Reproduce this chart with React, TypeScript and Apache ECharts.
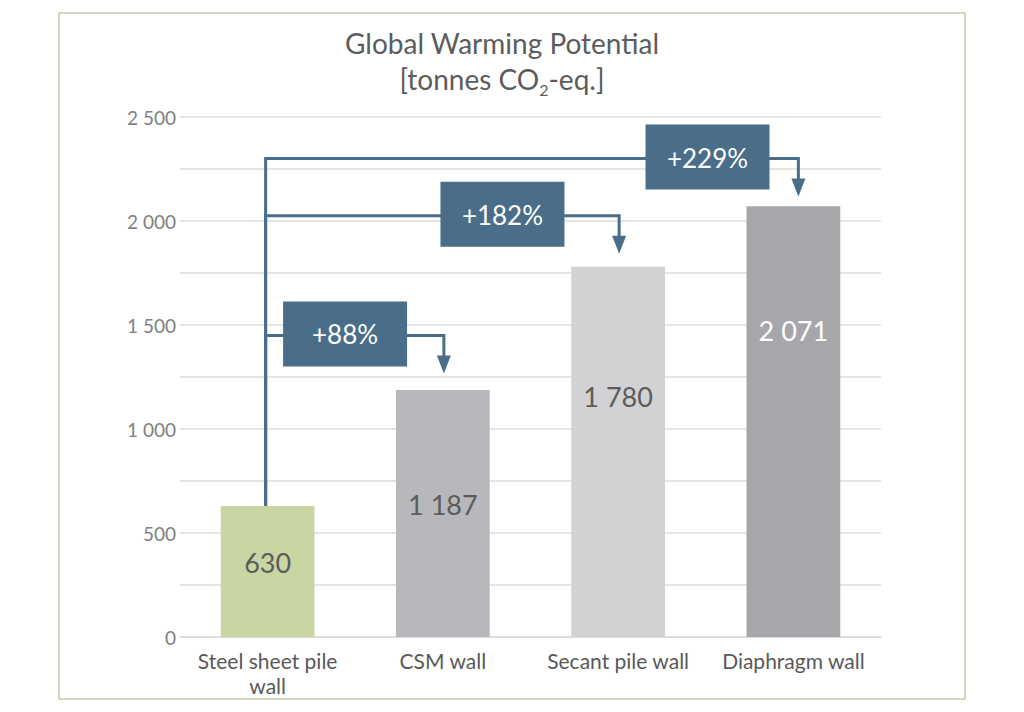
import React, { useEffect, useRef } from "react";
import * as echarts from "echarts";

const categories = ["Steel sheet pile\nwall", "CSM wall", "Secant pile wall", "Diaphragm wall"];
const values = [630, 1187, 1780, 2071];
const barColors = ["#c9d6a3", "#b8b8bc", "#d2d2d4", "#a7a7ab"];
const labelColors = ["#5c5c5c", "#5c5c5c", "#5c5c5c", "#ffffff"];
const labelDistances = [43, 101, 116, 111];

const comparisonTargets = [1, 2, 3];
const comparisonLabels = ["+88%", "+182%", "+229%"];
const bracketLevels = [1450, 2025, 2300];
const boxCenters = [0.442, 1.34, 2.51];
const arrowShifts = [1, 1, 5];

const FONT = "Lato, 'Open Sans', sans-serif";
const BLUE = "#4a6e8a";

const fmt = (v: number) => String(v).replace(/\B(?=(\d{3})+(?!\d))/g, " ");

export default function App() {
  const ref = useRef<HTMLDivElement>(null);
  useEffect(() => {
    const chart = echarts.init(ref.current!, null, { renderer: "svg" });
    const option: any = {
      animation: false,
      backgroundColor: "#ffffff",
      textStyle: { fontFamily: FONT },
      grid: { left: 180, right: 143, top: 117, bottom: 75, containLabel: false },
      graphic: [
        {
          type: "rect",
          shape: { x: 59, y: 13, width: 906, height: 686 },
          style: { fill: "none", stroke: "#d8d5c3", lineWidth: 2 },
          z: 0,
        },
        {
          type: "text",
          x: 502,
          y: 61,
          style: {
            text: "{t|Global Warming Potential}\n{t|[tonnes CO}{s|2}{t|-eq.]}",
            align: "center",
            verticalAlign: "middle",
            fontFamily: FONT,
            rich: {
              t: { fontSize: 28, lineHeight: 36, fill: "#5c5c5c", fontFamily: FONT },
              s: { fontSize: 16, lineHeight: 16, verticalAlign: "bottom", fill: "#5c5c5c", fontFamily: FONT },
            },
          },
        },
      ],
      xAxis: {
        type: "category",
        data: categories,
        axisTick: { show: false },
        axisLine: { lineStyle: { color: "#d9d9d9", width: 1.5 } },
        axisLabel: {
          interval: 0,
          fontSize: 21,
          lineHeight: 25,
          color: "#595959",
          margin: 11,
          fontFamily: FONT,
        },
      },
      yAxis: {
        type: "value",
        min: 0,
        max: 2500,
        interval: 250,
        axisLine: { show: false },
        axisTick: { show: false },
        splitLine: { lineStyle: { color: "#dcdcdc", width: 1.5 } },
        axisLabel: {
          fontSize: 19,
          color: "#808080",
          margin: 4,
          fontFamily: FONT,
          formatter: (v: number) => (v % 500 === 0 ? fmt(v) : ""),
        },
      },
      series: [
        {
          type: "bar",
          barWidth: "53.5%",
          data: values.map((v, i) => ({
            value: v,
            itemStyle: { color: barColors[i] },
            label: { color: labelColors[i], distance: labelDistances[i] },
          })),
          label: {
            show: true,
            position: "insideTop",
            fontSize: 27,
            fontFamily: FONT,
            formatter: (p: any) => fmt(p.value),
          },
          z: 2,
        },
        {
          type: "custom",
          clip: false,
          silent: true,
          z: 10,
          data: comparisonTargets.map((t, i) => [t, bracketLevels[i]]),
          renderItem: (params: any, api: any) => {
            const i = params.dataIndex;
            const target = api.value(0);
            const level = api.value(1);
            const origin = api.coord([0, values[0]]);
            const lvl = api.coord([target, level]);
            const x0 = api.coord([0, 0])[0];
            const x1 = api.coord([1, 0])[0];
            const ox = origin[0] - 2;
            const tx = lvl[0] + arrowShifts[i];
            const ly = lvl[1];
            const tipY = ly + 38;
            const boxCx = x0 + boxCenters[i] * (x1 - x0);
            return {
              type: "group",
              children: [
                {
                  type: "polyline",
                  shape: { points: [[ox, origin[1]], [ox, ly], [tx, ly], [tx, tipY - 16]] },
                  style: { stroke: BLUE, lineWidth: 3, fill: null },
                },
                {
                  type: "polygon",
                  shape: { points: [[tx - 7, tipY - 18], [tx + 7, tipY - 18], [tx, tipY]] },
                  style: { fill: BLUE },
                },
                {
                  type: "rect",
                  shape: { x: boxCx - 62, y: ly - 34, width: 124, height: 65 },
                  style: { fill: BLUE },
                },
                {
                  type: "text",
                  x: boxCx,
                  y: ly - 1,
                  style: {
                    text: comparisonLabels[i],
                    align: "center",
                    verticalAlign: "middle",
                    fill: "#ffffff",
                    fontSize: 26,
                    fontFamily: FONT,
                  },
                },
              ],
            };
          },
        },
      ],
    };
    chart.setOption(option);
    return () => chart.dispose();
  }, []);
  return (
    <div
      ref={ref}
      style={{ position: "fixed", left: 0, top: 0, width: 1024, height: 712, background: "#fff" }}
    />
  );
}
